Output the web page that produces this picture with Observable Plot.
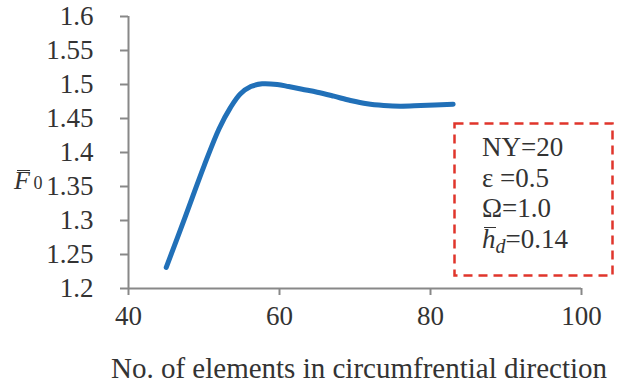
<!DOCTYPE html>
<html>
<head>
<meta charset="utf-8">
<script src="https://cdn.jsdelivr.net/npm/d3@7"></script>
<script src="https://cdn.jsdelivr.net/npm/@observablehq/plot@0.6"></script>
<style>
  html, body { margin: 0; padding: 0; background: white; }
  #wrap { position: relative; width: 617px; height: 390px; font-family: "Liberation Serif", "Times New Roman", serif; color: #333; }
  #ylab { position: absolute; left: 14px; top: 166px; font-size: 26px; }
  #box { position: absolute; left: 453px; top: 122px; width: 161px; height: 155px; }
  #boxtext { position: absolute; left: 482px; top: 132px; font-size: 27px; line-height: 30.5px; }
</style>
</head>
<body>
<div id="wrap">
  <div id="chart"></div>
  <div id="ylab"><span style="position:relative"><i>F</i><span style="position:absolute;left:3px;right:0;top:4px;border-top:1.5px solid #333"></span></span><span style="font-size:18px;">&thinsp;0</span></div>
  <svg id="box" width="161" height="155"><rect x="1.5" y="1.5" width="158" height="152" fill="none" stroke="#e0352b" stroke-width="2.5" stroke-dasharray="9,6"/></svg>
  <div id="boxtext">
    <div>NY=20</div>
    <div>ε =0.5</div>
    <div>Ω=1.0</div>
    <div><span style="position:relative"><i>h</i><span style="position:absolute;left:2px;right:0;top:3px;border-top:1.5px solid #333"></span></span><i style="font-size:20px;position:relative;top:5px;">d</i>=0.14</div>
  </div>
</div>
<script>
const elements = [45, 47.5, 50, 52, 53.5, 54.8, 56.2, 57.7, 59.7, 61.2, 63, 65, 67.2, 69.4, 71.6, 73.8, 76, 78.7, 83];
const force    = [1.231, 1.305, 1.38, 1.435, 1.466, 1.486, 1.497, 1.501, 1.500, 1.497, 1.493, 1.4887, 1.4828, 1.4765, 1.4716, 1.4691, 1.468, 1.469, 1.471];
const xTicks = [40, 60, 80, 100];
const yTicks = [1.2, 1.25, 1.3, 1.35, 1.4, 1.45, 1.5, 1.55, 1.6];
const xLabel = "No. of elements in circumfrential direction";

const data = elements.map((x, i) => ({x, y: force[i]}));
const serif = "'Liberation Serif', 'Times New Roman', serif";

const chart = Plot.plot({
  width: 617,
  height: 390,
  marginLeft: 128,
  marginRight: 36,
  marginTop: 16,
  marginBottom: 102,
  style: {fontFamily: serif, fontSize: "27px", color: "#333", background: "white", overflow: "visible"},
  x: {domain: [40, 100]},
  y: {domain: [1.2, 1.6]},
  marks: [
    Plot.axisY({ticks: yTicks, tickSize: 8, tickPadding: 27, tickFormat: d => String(+d.toFixed(2)), label: null, stroke: "#888", strokeWidth: 2, fill: "#333", fontFamily: serif, fontSize: 27}),
    Plot.axisX({ticks: xTicks, tickSize: 7, tickPadding: 10, tickFormat: d => String(d), label: null, stroke: "#888", strokeWidth: 2, fill: "#333", fontFamily: serif, fontSize: 27}),
    Plot.ruleX([40], {stroke: "#888", strokeWidth: 2}),
    Plot.ruleY([1.2], {stroke: "#888", strokeWidth: 2}),
    Plot.line(data, {x: "x", y: "y", stroke: "#2170b8", strokeWidth: 5, curve: "catmull-rom", strokeLinecap: "round"}),
    Plot.text([xLabel], {frameAnchor: "bottom", dy: 89, text: d => d, fill: "#333", fontFamily: serif, fontSize: 29, dx: 4})
  ]
});
document.getElementById("chart").appendChild(chart);
</script>
</body>
</html>
